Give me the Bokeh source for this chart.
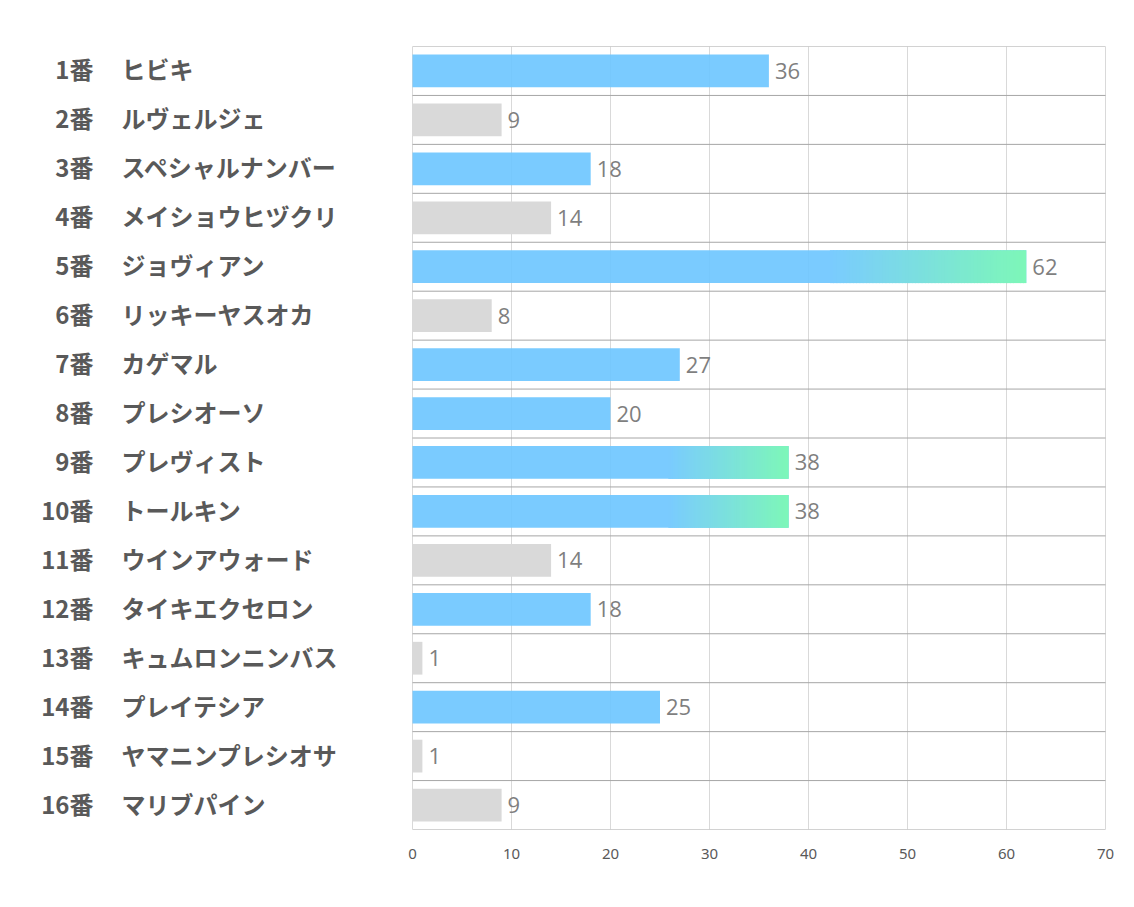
from bokeh.plotting import figure
from bokeh.models import ColumnDataSource, FixedTicker, Range1d
from bokeh.core.properties import value
from bokeh.embed import file_html
from bokeh.resources import INLINE

numbers = ["1番", "2番", "3番", "4番", "5番", "6番", "7番", "8番",
           "9番", "10番", "11番", "12番", "13番", "14番", "15番", "16番"]
names = ["ヒビキ", "ルヴェルジェ", "スペシャルナンバー", "メイショウヒヅクリ",
         "ジョヴィアン", "リッキーヤスオカ", "カゲマル", "プレシオーソ",
         "プレヴィスト", "トールキン", "ウインアウォード", "タイキエクセロン",
         "キュムロンニンバス", "プレイテシア", "ヤマニンプレシオサ", "マリブパイン"]
values = [36, 9, 18, 14, 62, 8, 27, 20, 38, 38, 14, 18, 1, 25, 1, 9]
x_ticks = [0, 10, 20, 30, 40, 50, 60, 70]

BLUE = "#6BC5FF"
GRAY = "#D9D9D9"
GREEN = (125, 247, 184)
BLUE_RGB = (122, 203, 255)
THRESH = 15
GRAD_START = 0.68
N_SEG = 60

# layout (pixels)
W, H = 1126, 899
PLOT_L, PLOT_R = 412, 1105
XMAX = x_ticks[-1]
PX = (PLOT_R - PLOT_L) / XMAX
NUM_RIGHT_PX, NAME_LEFT_PX = 93, 121

n = len(values)
ys = list(range(1, n + 1))
top3 = sorted(values, reverse=True)[2]
colors = [BLUE if v >= THRESH else GRAY for v in values]
alphas = [0.9 if v >= THRESH else 1.0 for v in values]

p = figure(width=W, height=H, output_backend="svg", toolbar_location=None,
           x_range=Range1d(-PLOT_L / PX, XMAX + (W - PLOT_R) / PX),
           y_range=Range1d(n + 0.5, 0.5),
           min_border_left=0, min_border_right=0, min_border_top=46,
           min_border_bottom=70)
p.outline_line_color = None
p.background_fill_color = "white"
p.border_fill_color = "white"

src = ColumnDataSource(dict(y=ys, v=values, c=colors, a=alphas,
                            lab=[str(v) for v in values],
                            num=numbers, name=names))

# row separators
seps = [i + 0.5 for i in range(n + 1)]
p.segment(x0=0, x1=XMAX, y0=seps, y1=seps, line_color="#A6A6A6", line_width=1)

p.hbar(y="y", left=0, right="v", height=0.67, fill_color="c", fill_alpha="a",
       line_color=None, source=src)

# gradient overlay for top-3 bars
gl, gr, gy, gc = [], [], [], []
for y, v in zip(ys, values):
    if v >= top3:
        s = v * GRAD_START
        w = (v - s) / N_SEG
        for k in range(N_SEG):
            t = (k + 0.5) / N_SEG
            rgb = tuple(int(round(BLUE_RGB[j] + (GREEN[j] - BLUE_RGB[j]) * t)) for j in range(3))
            gl.append(s + k * w)
            gr.append(min(s + (k + 1) * w + w * 0.3, v))
            gy.append(y)
            gc.append("#%02x%02x%02x" % rgb)
p.hbar(y=gy, left=gl, right=gr, height=0.67, fill_color=gc, line_color=None)

# value labels
p.text(x="v", y="y", text="lab", source=src, x_offset=6, y_offset=0,
       text_baseline="middle", text_align="left",
       text_font=value("Open Sans"), text_font_size="22px", text_color="#7F7F7F")

# category labels
p.text(x=(NUM_RIGHT_PX - PLOT_L) / PX, y="y", text="num", source=src,
       y_offset=-2, text_align="right", text_baseline="middle",
       text_font=value("Noto Sans CJK JP"), text_font_style="bold",
       text_font_size="24px", text_color="#595959")
p.text(x=(NAME_LEFT_PX - PLOT_L) / PX, y="y", text="name", source=src,
       y_offset=-2, text_align="left", text_baseline="middle",
       text_font=value("Noto Sans CJK JP"), text_font_style="bold",
       text_font_size="24px", text_color="#595959")

# grids / axes
p.xaxis.ticker = FixedTicker(ticks=x_ticks)
p.xgrid.ticker = FixedTicker(ticks=x_ticks)
p.xgrid.grid_line_color = "#D9D9D9"
p.xgrid.grid_line_width = 1
p.ygrid.visible = False

p.yaxis.visible = False
p.xaxis.axis_line_color = None
p.xaxis.major_tick_line_color = None
p.xaxis.minor_tick_line_color = None
p.xaxis.major_label_standoff = 13
p.xaxis.major_label_text_font = "Noto Sans"
p.xaxis.major_label_text_font_size = "15px"
p.xaxis.major_label_text_color = "#595959"

open("out.html", "w").write(file_html(p, INLINE))
